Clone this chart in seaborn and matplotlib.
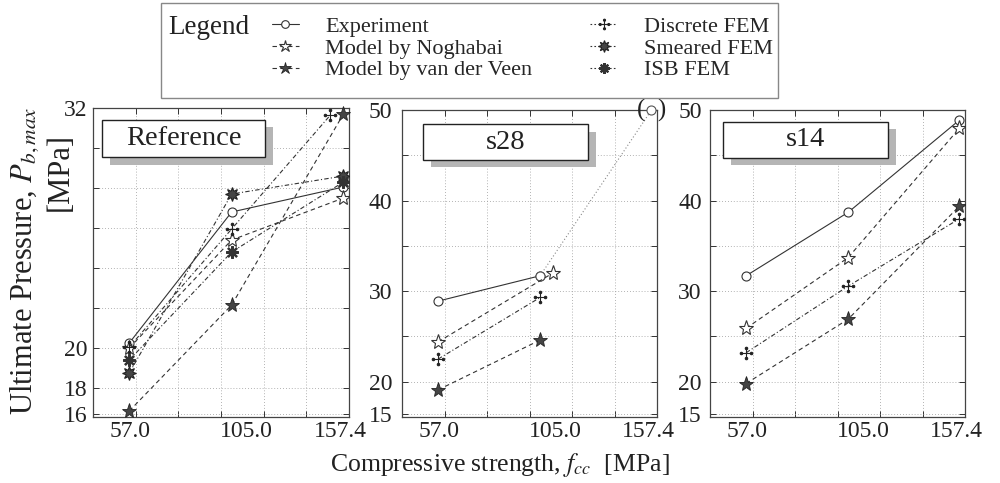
import numpy as np
import pandas as pd
import matplotlib
matplotlib.use("Agg")
import matplotlib.pyplot as plt
import seaborn as sns
from matplotlib.path import Path
from matplotlib.patches import Rectangle
from matplotlib.lines import Line2D
from matplotlib.ticker import FixedLocator, FixedFormatter, NullFormatter

# ---------------- data ----------------
fcc = [57.0, 105.0, 157.4]
x_tick_labels = ["57.0", "105.0", "157.4"]
x_label_pos = [57.5, 112.0, 156.0]
x_grid = [60, 80, 100, 120, 140]

# Reference panel
ref_experiment = [20.25, 26.8, 28.05]
ref_noghabai = [20.0, 25.4, 27.5]
ref_veen = [16.85, 22.15, 31.7]
ref_discrete_x = [57.0, 105.0, 151.3]
ref_discrete = [20.05, 25.95, 31.65]
ref_smeared = [18.75, 27.7, 28.6]
ref_isb = [19.4, 24.8, 28.3]

# s28 panel
s28_x = [57.0, 105.0]
s28_experiment = [28.9, 31.7]
s28_experiment_extra_x = [105.0, 157.4]
s28_experiment_extra = [31.7, 50.0]
s28_noghabai_x = [57.0, 111.0]
s28_noghabai = [24.4, 32.0]
s28_discrete = [22.5, 29.3]
s28_veen = [19.1, 24.6]

# s14 panel
s14_experiment = [31.7, 38.7, 48.9]
s14_noghabai = [25.9, 33.7, 48.0]
s14_discrete = [23.2, 30.55, 38.0]
s14_veen = [19.8, 26.9, 39.4]

series_names = ["Experiment", "Model by Noghabai", "Model by van der Veen",
                "Discrete FEM", "Smeared FEM", "ISB FEM"]
panel_titles = ["Reference", "s28", "s14"]

# y ticks: gridline positions and labelled positions
ref_ygrid = [18, 20, 22, 24, 26, 28, 30, 32]
ref_ylabels = {16.7: "16", 18: "18", 20: "20", 32: "32"}
s_ygrid = [20, 25, 30, 35, 40, 45, 50]
s_ylabels = {16.4: "15", 20: "20", 30: "30", 40: "40", 50: "50"}

# ---------------- styles ----------------
sns.set_theme(style="white")
plt.rcParams['font.family'] = ['Liberation Serif', 'DejaVu Serif']
plt.rcParams['mathtext.fontset'] = 'stix'

LC = '#333333'


def dot_cross_path():
    r = 0.24
    parts = [Path.circle((0, 1), r), Path.circle((0, -1), r),
             Path.circle((1, 0), r), Path.circle((-1, 0), r),
             Path([(-0.75, 0), (0.75, 0)], [Path.MOVETO, Path.LINETO]),
             Path([(0, -0.75), (0, 0.75)], [Path.MOVETO, Path.LINETO])]
    return Path.make_compound_path(*parts)


DOTX = dot_cross_path()
DASH = (0, (4, 3))
DASHDOT = (0, (4, 2, 1, 2))

style = {
    "Experiment": dict(marker='o', markersize=6.5, markerfacecolor='white',
                       markeredgecolor=LC, markeredgewidth=0.8, linestyle='-'),
    "Model by Noghabai": dict(marker='*', markersize=11, markerfacecolor='white',
                              markeredgecolor=LC, markeredgewidth=0.8, linestyle=DASH),
    "Model by van der Veen": dict(marker='*', markersize=11, markerfacecolor='#444444',
                                  markeredgecolor='#222222', markeredgewidth=0.6, linestyle=DASH),
    "Discrete FEM": dict(marker=DOTX, markersize=9, markerfacecolor='#222222',
                         markeredgecolor='#222222', markeredgewidth=0.8, linestyle=DASHDOT),
    "Smeared FEM": dict(marker=(8, 1, 0), markersize=10, markerfacecolor='#444444',
                        markeredgecolor='#222222', markeredgewidth=0.8, linestyle=DASHDOT),
    "ISB FEM": dict(marker=(8, 2, 0), markersize=9, markerfacecolor='#333333',
                    markeredgecolor='#333333', markeredgewidth=1.6, linestyle=DASHDOT),
}

fig = plt.figure(figsize=(10, 4.83), dpi=100)
ax1 = fig.add_axes([0.093, 0.1366, 0.256, 0.6398])
ax2 = fig.add_axes([0.402, 0.1366, 0.255, 0.6356])
ax3 = fig.add_axes([0.710, 0.1366, 0.255, 0.6356])


def draw(ax, name, xs, ys, **extra):
    kw = dict(color=LC, linewidth=0.8)
    kw.update(style[name])
    kw.update(extra)
    sns.lineplot(x=xs, y=ys, ax=ax, sort=False, legend=False, zorder=4, **kw)


# Reference
draw(ax1, "Experiment", fcc, ref_experiment)
draw(ax1, "Model by Noghabai", fcc, ref_noghabai)
draw(ax1, "Model by van der Veen", fcc, ref_veen, clip_on=False)
draw(ax1, "Discrete FEM", ref_discrete_x, ref_discrete)
draw(ax1, "Smeared FEM", fcc, ref_smeared)
draw(ax1, "ISB FEM", fcc, ref_isb)

# s28
draw(ax2, "Experiment", s28_x, s28_experiment)
draw(ax2, "Experiment", s28_experiment_extra_x, s28_experiment_extra,
     linestyle=(0, (1, 2)), clip_on=False, color='#888888',
     markeredgecolor='#555555')
draw(ax2, "Model by Noghabai", s28_noghabai_x, s28_noghabai)
draw(ax2, "Discrete FEM", s28_x, s28_discrete)
draw(ax2, "Model by van der Veen", s28_x, s28_veen)
ax2.text(s28_experiment_extra_x[-1], s28_experiment_extra[-1], "(  )",
         ha='center', va='center', fontsize=18, color='#222222', clip_on=False,
         zorder=6)

# s14
draw(ax3, "Experiment", fcc, s14_experiment)
draw(ax3, "Model by Noghabai", fcc, s14_noghabai)
draw(ax3, "Discrete FEM", fcc, s14_discrete)
draw(ax3, "Model by van der Veen", fcc, s14_veen)


def setup(ax, ylim, ygrid, ylabels, ypad):
    ax.set_xlim(40, 160)
    ax.set_ylim(*ylim)
    ax.xaxis.set_major_locator(FixedLocator(x_grid))
    ax.xaxis.set_major_formatter(NullFormatter())
    ax.xaxis.set_minor_locator(FixedLocator(x_label_pos))
    ax.xaxis.set_minor_formatter(FixedFormatter(x_tick_labels))
    pos = sorted(set(ygrid) | set(ylabels.keys()))
    ax.yaxis.set_major_locator(FixedLocator(pos))
    ax.yaxis.set_major_formatter(FixedFormatter([ylabels.get(p, "") for p in pos]))
    ax.yaxis.set_minor_locator(FixedLocator([]))
    ax.tick_params(which='major', direction='in', length=4, width=0.7,
                   top=True, right=True, bottom=True, left=True, color='#333333',
                   labelsize=17, labelcolor='#222222')
    ax.tick_params(axis='y', which='major', pad=ypad)
    ax.tick_params(axis='x', which='minor', length=0, labelsize=17,
                   labelcolor='#222222', pad=3)
    ax.grid(True, which='major', linestyle=(0, (1, 2.5)), color='#9a9a9a', linewidth=0.6)
    for s in ax.spines.values():
        s.set_color('#444444')
        s.set_linewidth(0.9)
    ax.set_facecolor('white')


setup(ax1, (16.55, 32), ref_ygrid, ref_ylabels, 4)
setup(ax2, (16.1, 50), s_ygrid, s_ylabels, 7)
setup(ax3, (16.1, 50), s_ygrid, s_ylabels, 6)


def title_box(ax, text, x0, x1, y0, y1):
    w, h = x1 - x0, y1 - y0
    ax.add_patch(Rectangle((x0 + 0.032, y0 - 0.024), w, h, transform=ax.transAxes,
                           facecolor='#b5b5b5', edgecolor='none', zorder=7))
    ax.add_patch(Rectangle((x0, y0), w, h, transform=ax.transAxes,
                           facecolor='white', edgecolor='#222222', linewidth=1.0, zorder=8))
    ax.text((x0 + x1) / 2, (y0 + y1) / 2, text, transform=ax.transAxes,
            ha='center', va='center', fontsize=20.5, color='#222222', zorder=9)


title_box(ax1, panel_titles[0], 0.035, 0.672, 0.841, 0.961)
title_box(ax2, panel_titles[1], 0.082, 0.729, 0.837, 0.954)
title_box(ax3, panel_titles[2], 0.051, 0.698, 0.844, 0.961)

# Legend
handles = []
for name in series_names:
    kw = dict(color=LC, linewidth=0.8)
    kw.update(style[name])
    if name != "Experiment":
        kw["linestyle"] = DASH if "Model" in name else (0, (1.5, 2))
    kw["markersize"] = kw["markersize"] * 0.85
    handles.append(Line2D([], [], **kw))
fig.add_artist(Rectangle((0.161, 0.797), 0.617, 0.197, transform=fig.transFigure,
                         fill=False, edgecolor='#888888', linewidth=1.0))
fig.text(0.168, 0.944, "Legend", ha='left', va='center', fontsize=19.5, color='#222222')
fig.legend(handles, series_names, ncol=2, loc='upper left',
           bbox_to_anchor=(0.272, 0.966), frameon=False, fontsize=16,
           handlelength=1.2, handletextpad=1.2, columnspacing=2.6,
           labelspacing=0.05, borderpad=0, borderaxespad=0)

# y-axis title (two separately placed lines, as in the reference)
fig.text(0.025, 0.46, "Ultimate Pressure, $P_{b,max}$", rotation=90,
         ha='center', va='center', fontsize=22, color='#222222')
fig.text(0.060, 0.644, "[MPa]", rotation=90,
         ha='center', va='center', fontsize=22, color='#222222')
fig.text(0.50, 0.037, "Compressive strength, $f_{cc}$  [MPa]", ha='center',
         va='center', fontsize=18.5, color='#222222')

fig.savefig("out.png", dpi=100, facecolor='white')
